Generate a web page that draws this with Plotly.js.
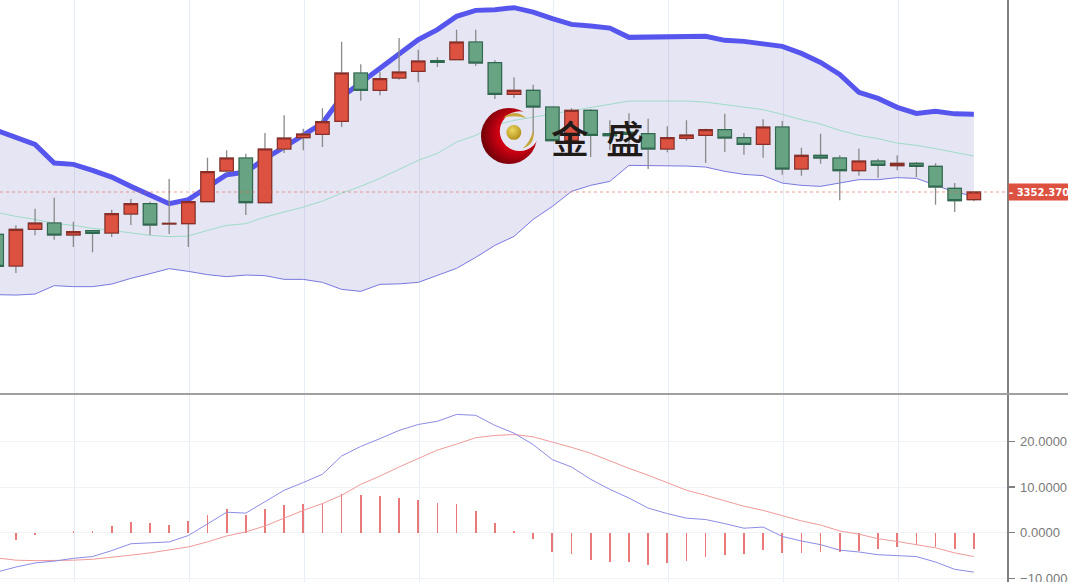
<!DOCTYPE html>
<html><head><meta charset="utf-8">
<script src="https://cdn.plot.ly/plotly-3.0.1.min.js"></script>
<style>html,body{margin:0;padding:0;background:#fff;overflow:hidden}#c{width:1068px;height:582px}</style>
</head><body><div id="c"></div>
<script>
const opens=[3310,3278.3,3315,3321.3,3309.3,3313.7,3311.3,3330.3,3340.7,3320.3,3320.7,3342.7,3373.3,3386.3,3341.7,3395.3,3406.7,3410,3423,3471.3,3454,3466.3,3473,3483.7,3484.7,3502.3,3481.7,3450,3454,3437.3,3404,3434,3410.7,3412,3410.7,3395.3,3406,3409,3414.7,3406.7,3400,3417.3,3375.3,3389,3386.3,3373.7,3383.3,3378.7,3381,3378,3356,3344.7];
const closes=[3278,3315,3321.3,3309.3,3312.7,3311,3330.7,3340.7,3319.3,3321,3342.7,3372.7,3386.3,3341.7,3395.3,3406.3,3410.3,3422.7,3471.3,3454,3465.7,3472.3,3483.3,3482,3502.3,3481.3,3450,3454,3437.3,3403.7,3434,3409,3408.7,3410,3395.3,3406.7,3409.3,3414.7,3406.3,3400,3417.3,3375.3,3389,3386.3,3373.7,3383.3,3379,3381,3378,3357.3,3343.7,3352.37];
const highs=[3312,3319,3335.7,3346.7,3322.7,3314,3334.7,3345.3,3342.7,3365.3,3343,3386.7,3394,3390.7,3411.3,3429,3415.7,3436,3502.7,3480,3472.3,3506.3,3494.7,3487,3514.7,3514.7,3484,3467,3459.7,3437.3,3436,3435.3,3424,3431,3425.7,3418,3424,3415.7,3430.7,3411.3,3425,3423.3,3396.7,3410.7,3389,3395.7,3385.7,3389,3382.3,3381,3361.3,3352.37];
const lows=[3276,3271.3,3309,3304.7,3297.3,3292,3307.3,3319.3,3309.3,3310.3,3297.3,3342.7,3370.7,3329.3,3341.7,3391.3,3394,3397.3,3417.3,3443.7,3449,3464.7,3462,3477.3,3484.7,3478.3,3445.3,3446.3,3409,3403.7,3404,3387.3,3394,3398,3375.3,3392,3403.7,3381.3,3392.3,3389.7,3386.7,3369.7,3368.7,3380.7,3344,3368.7,3366.7,3374,3367.3,3339.7,3332.3,3343];
const bollUpper=[3414,3407,3400,3381.3,3380,3374,3367.3,3358,3350,3340.7,3344.7,3357.3,3369.7,3372.3,3385.7,3397.3,3409,3421.3,3447.3,3461.3,3475.7,3490.7,3504.7,3514.7,3528,3534,3534.7,3536.7,3532.3,3525.7,3520,3518.3,3516.3,3507,3507,3507,3507,3508,3504,3503,3500.5,3498,3491,3482,3470,3452,3446,3437,3431,3433,3430.5,3430];
const bollMid=[3332,3328,3325,3321,3319,3316,3314,3311.3,3309,3307.7,3308.3,3314,3319,3320.7,3327.3,3332.3,3337.3,3343.3,3351.3,3358,3366,3375,3384,3391,3402.3,3409,3419,3424,3427.3,3430.7,3433.3,3437.3,3440,3443.3,3443.3,3443.3,3443.3,3442.3,3439.7,3437.3,3434.7,3430,3424.7,3420.3,3414,3409,3405.7,3401.3,3399,3395.7,3392.3,3388.3];
const bollLower=[3249.7,3249.3,3250.3,3258.7,3257.7,3257.7,3260.3,3266,3270.7,3275.7,3273,3269.7,3267.7,3269.3,3268.7,3265,3265,3262,3255,3253,3260,3260.5,3262,3269,3276,3287,3299,3308,3325,3338,3353,3359,3363,3379,3379,3379,3378.3,3377.3,3373,3370,3368.7,3361.3,3359,3358,3361.3,3364.7,3364.7,3366.7,3366,3359,3352.3,3348.3];
const dif=[-8.6,-7.5,-6.6,-6.2,-5.6,-5.2,-3.9,-2.4,-2.2,-2.0,-0.6,1.9,4.5,4.3,6.8,9.3,11.0,12.8,16.8,18.9,20.6,22.4,23.7,24.4,25.9,25.7,23.5,21.8,19.3,16.0,14.4,11.7,9.5,7.6,5.4,4.2,3.2,2.9,2.0,1.0,1.25,-0.8,-1.8,-2.6,-3.8,-4.2,-4.8,-5.0,-5.2,-6.4,-8.0,-8.6];
const dea=[-5.5,-6.0,-6.1,-6.1,-6.0,-5.8,-5.4,-4.9,-4.4,-3.75,-3.1,-2.0,-0.7,0.2,1.5,3.2,4.9,6.4,8.2,10.6,12.4,14.4,16.2,18.1,19.4,20.8,21.3,21.5,21.0,19.9,18.7,17.4,15.7,14.1,12.6,11.0,9.3,8.2,7.0,5.8,4.9,3.7,2.6,1.7,0.4,-0.3,-1.3,-1.9,-2.6,-3.3,-4.4,-5.2];
const hist=[0,-1.6,-0.4,0,0.3,0.5,1.4,2.35,2.2,1.75,2.6,4.0,5.1,3.9,5.1,6.0,6.2,6.5,8.4,8.2,8.0,7.6,7.2,6.6,6.2,4.7,2.2,0.3,-1.4,-4.3,-4.7,-5.9,-6.5,-6.5,-7.1,-6.7,-6.1,-5.3,-4.9,-4.7,-3.7,-4.5,-4.5,-4.3,-4.2,-3.9,-3.5,-3.1,-2.7,-3.2,-3.6,-3.5];
const macdTicks=[-10,0,10,20];
const gridIdx=[4.05,10.05,16.05,22.05,29.05,35.05,41.05,47.05];
const lastPrice=3352.37;
const idx=opens.map((_,i)=>i);
const RED='#dc5140',GREEN='#68a384',RED_D='#8a2f28',GREEN_D='#2f6a50',WICK='#8a8a8a';
const logoSvg=`<svg xmlns="http://www.w3.org/2000/svg" viewBox="0 0 60 60" width="240" height="240">
<defs><radialGradient id="r" cx="0.62" cy="0.45" r="0.62"><stop offset="0" stop-color="#f01020"/><stop offset="0.55" stop-color="#c80012"/><stop offset="1" stop-color="#6e0008"/></radialGradient>
<radialGradient id="g" cx="0.4" cy="0.35" r="0.7"><stop offset="0" stop-color="#ecd860"/><stop offset="1" stop-color="#b08c14"/></radialGradient>
<mask id="m"><rect width="60" height="60" fill="#fff"/><circle cx="41" cy="25" r="20.5" fill="#000"/></mask></defs>
<circle cx="30" cy="30" r="29" fill="url(#r)" mask="url(#m)"/>
<circle cx="35" cy="26.3" r="7.7" fill="url(#g)"/>
<path d="M24 11 Q36 1 48 11.5 Q36 8 24 11 Z" fill="#c8a83c"/>
<path d="M55 24 Q58 38 44 43 Q52 36 55 24 Z" fill="#c8a83c"/>
</svg>`;
const PW=1007,H=582;
const px=v=>v/PW, py=v=>1-v/H;
const sc={hoverinfo:'skip',showlegend:false};
const traces=[
 {...sc,type:'scatter',mode:'lines',x:idx,y:bollLower,line:{color:'#7878e0',width:1}},
 {...sc,type:'scatter',mode:'lines',x:idx,y:bollUpper,line:{color:'#5656ee',width:5},fill:'tonexty',fillcolor:'rgba(70,70,170,0.14)'},
 {...sc,type:'scatter',mode:'lines',x:idx,y:bollMid,line:{color:'#9edcc8',width:1}},
 {...sc,type:'candlestick',x:idx,open:opens,close:closes,high:highs,low:lows,yaxis:'y3',whiskerwidth:0,
  increasing:{line:{color:WICK,width:1.3},fillcolor:'rgba(0,0,0,0)'},decreasing:{line:{color:WICK,width:1.3},fillcolor:'rgba(0,0,0,0)'}},
 {...sc,type:'candlestick',x:idx,open:opens,close:closes,yaxis:'y3',whiskerwidth:0,
  high:opens.map((o,i)=>Math.max(o,closes[i])),low:opens.map((o,i)=>Math.min(o,closes[i])),
  increasing:{line:{color:RED_D,width:1.1},fillcolor:RED},decreasing:{line:{color:GREEN_D,width:1.1},fillcolor:GREEN}},
 {...sc,type:'bar',x:idx,y:hist,xaxis:'x2',yaxis:'y2',width:0.09,marker:{color:'rgba(226,70,70,0.72)',line:{width:0}}},
 {...sc,type:'scatter',mode:'lines',x:idx,y:dea,xaxis:'x2',yaxis:'y2',line:{color:'#f09a9a',width:1}},
 {...sc,type:'scatter',mode:'lines',x:idx,y:dif,xaxis:'x2',yaxis:'y2',line:{color:'#8c8ce6',width:1}}
];
const xr=[0.17,52.73],yr=[3151.37,3544.37];
const xBase={range:xr,tickmode:'array',tickvals:gridIdx,showticklabels:false,ticks:'',showgrid:true,gridcolor:'#e8eef5',gridwidth:1,zeroline:false,showline:false,rangeslider:{visible:false},fixedrange:true};
const layout={width:1068,height:582,margin:{l:0,r:61,t:0,b:0},paper_bgcolor:'#fff',plot_bgcolor:'#fff',showlegend:false,boxgap:0.3,boxgroupgap:0,bargap:0,
 xaxis:{...xBase,anchor:'y',domain:[0,1]},
 yaxis:{domain:[1-393/H,1],range:yr,showgrid:false,zeroline:false,showticklabels:false,ticks:'',side:'right',showline:true,linecolor:'#808080',linewidth:1.5,fixedrange:true},
 yaxis3:{overlaying:'y',range:yr,visible:false,side:'right',fixedrange:true},
 xaxis2:{...xBase,anchor:'y2',domain:[0,1]},
 yaxis2:{domain:[0,1-395/H],range:[-10.77,30.15],side:'right',tickmode:'array',tickvals:macdTicks,tickformat:'.4f',showgrid:true,gridcolor:'#eff3f7',zeroline:false,
  ticks:'outside',ticklen:6,tickcolor:'#808080',tickwidth:1.2,showline:true,linecolor:'#808080',linewidth:1.5,fixedrange:true,ticklabeloverflow:'allow',ticklabelstandoff:3,
  tickfont:{family:'Liberation Sans',size:13,color:'#7a7a7a'}},
 shapes:[
  {type:'line',xref:'paper',yref:'paper',x0:0,x1:1068/PW,y0:py(394),y1:py(394),line:{color:'#808080',width:1.5}},
  {type:'line',xref:'paper',yref:'y',x0:0,x1:1,y0:lastPrice,y1:lastPrice,line:{color:'#e2604e',width:0.6,dash:'dot'}}
 ],
 images:[{source:'data:image/svg+xml;charset=utf-8,'+encodeURIComponent(logoSvg),xref:'paper',yref:'paper',x:px(480),y:py(107),sizex:px(58),sizey:58/H,sizing:'stretch',xanchor:'left',yanchor:'top',layer:'above'}],
 annotations:[
  {xref:'paper',yref:'paper',x:px(569.5),y:py(136),text:'金',showarrow:false,xanchor:'center',yanchor:'middle',font:{family:'Noto Sans CJK SC',size:38,color:'#201a18',weight:500}},
  {xref:'paper',yref:'paper',x:px(624.5),y:py(136),text:'盛',showarrow:false,xanchor:'center',yanchor:'middle',font:{family:'Noto Sans CJK SC',size:38,color:'#201a18',weight:500}},
  {xref:'paper',yref:'y',x:1,xshift:1,y:lastPrice,xanchor:'left',yanchor:'middle',showarrow:false,align:'left',width:60,height:16,bgcolor:'#dc5140',borderpad:0,text:'- 3352.370',font:{family:'DejaVu Sans',size:10,color:'#fff',weight:700}}
 ]
};
Plotly.newPlot('c',traces,layout,{staticPlot:true,displayModeBar:false});
</script></body></html>
